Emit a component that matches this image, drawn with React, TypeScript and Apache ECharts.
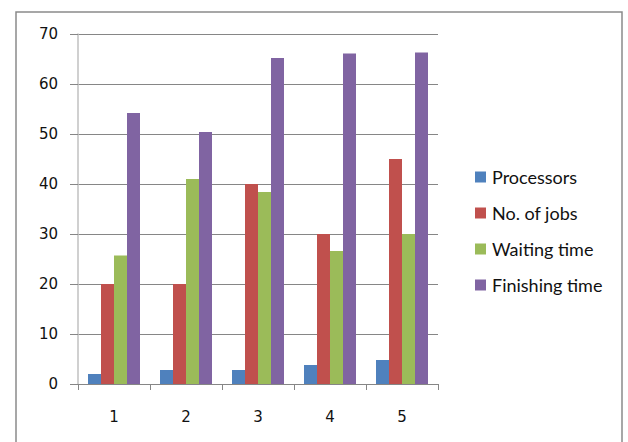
import React, { useEffect, useRef } from "react";
import * as echarts from "echarts";

const categories = ["1", "2", "3", "4", "5"];
const processors = [2, 2.8, 2.8, 3.8, 4.8];
const noOfJobs = [20, 20, 40, 30, 45];
const waitingTime = [25.7, 41, 38.4, 26.6, 30];
const finishingTime = [54.2, 50.4, 65.2, 66.1, 66.3];

const seriesNames = ["Processors", "No. of jobs", "Waiting time", "Finishing time"];
const seriesColors = ["#4F81BD", "#C0504D", "#9BBB59", "#8064A2"];

export default function App() {
  const ref = useRef<HTMLDivElement>(null);

  useEffect(() => {
    if (!ref.current) return;
    const chart = echarts.init(ref.current, null, { renderer: "svg" });
    const values = [processors, noOfJobs, waitingTime, finishingTime];
    chart.setOption({
      animation: false,
      backgroundColor: "#ffffff",
      graphic: [
        {
          type: "rect",
          shape: { x: 16, y: 12, width: 606, height: 440 },
          style: { fill: "none", stroke: "#8a8a8a", lineWidth: 1.5 },
          z: -1,
        },
      ],
      grid: { left: 78, top: 34, right: 190, bottom: 58 },
      legend: {
        orient: "vertical",
        left: 470,
        top: 163,
        itemWidth: 11,
        itemHeight: 11,
        itemGap: 18,
        icon: "rect",
        textStyle: { fontFamily: "Lato", fontSize: 18, color: "#111", padding: [0, 0, 0, 1] },
        data: seriesNames,
      },
      xAxis: {
        type: "category",
        data: categories,
        axisLine: { lineStyle: { color: "#868686", width: 1 } },
        axisTick: { show: true, length: 6, lineStyle: { color: "#868686" } },
        axisLabel: { fontFamily: "DejaVu Sans", fontSize: 15, color: "#111", margin: 25 },
      },
      yAxis: {
        type: "value",
        min: 0,
        max: 70,
        interval: 10,
        axisLine: { show: true, lineStyle: { color: "#c0c0c0", width: 1.5 } },
        axisTick: { show: true, length: 8, lineStyle: { color: "#868686" } },
        axisLabel: { fontFamily: "DejaVu Sans", fontSize: 15, color: "#111", margin: 20 },
        splitLine: { lineStyle: { color: "#868686", width: 1 } },
      },
      series: seriesNames.map((name, i) => ({
        name,
        type: "bar",
        data: values[i],
        barWidth: 13,
        barGap: "0%",
        itemStyle: { color: seriesColors[i] },
      })),
    });
    return () => chart.dispose();
  }, []);

  return (
    <div
      ref={ref}
      style={{ position: "fixed", left: 0, top: 0, width: 628, height: 442 }}
    />
  );
}
